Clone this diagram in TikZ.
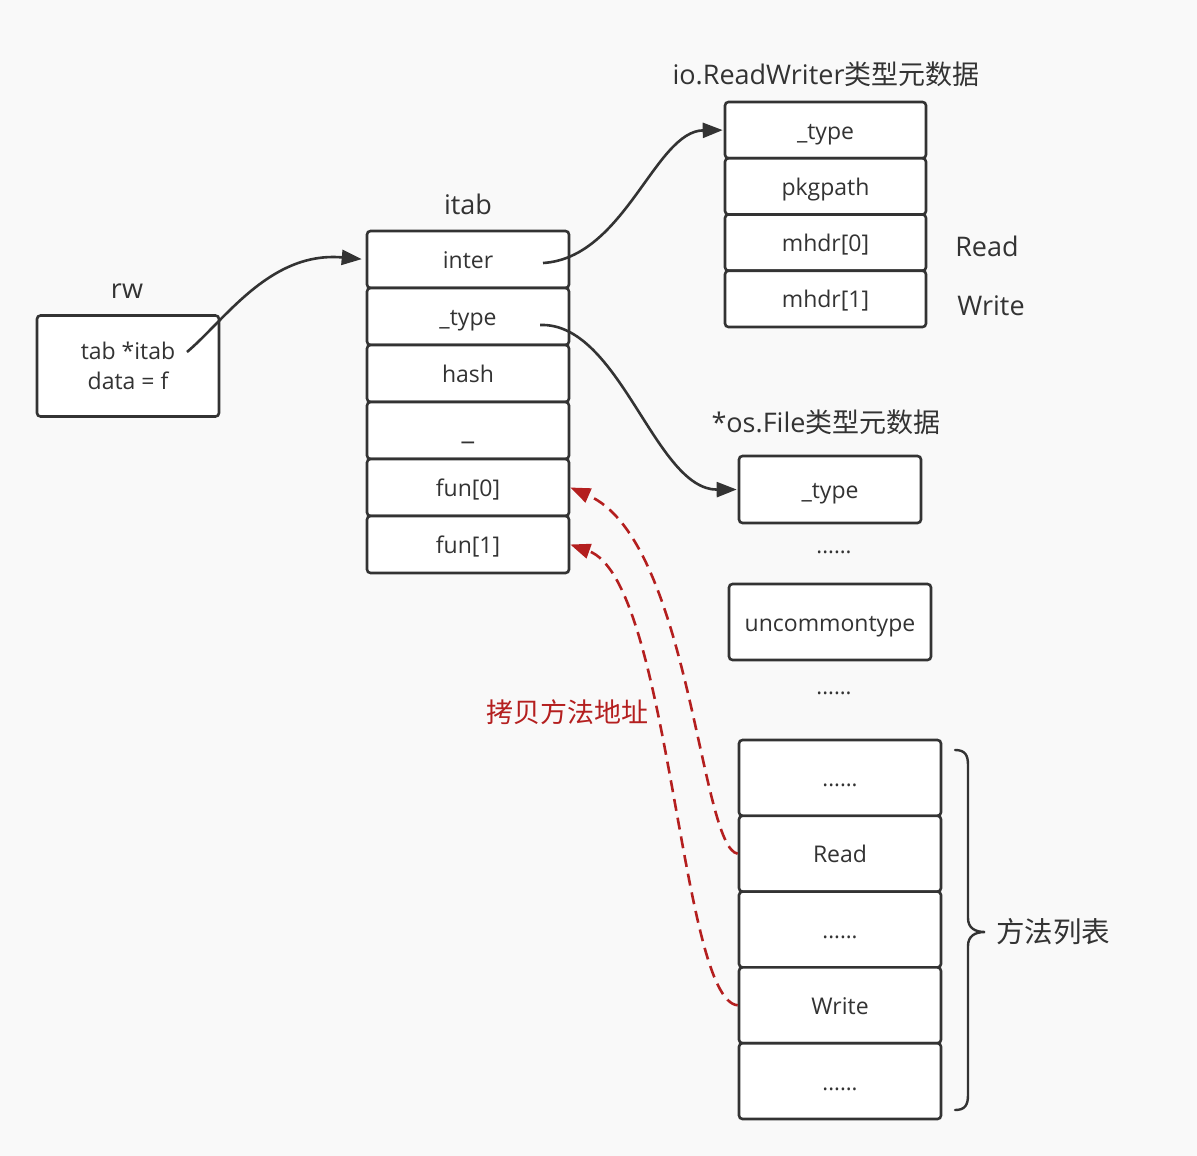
\documentclass[tikz,border=0pt]{standalone}
\usepackage{fontspec}
\setmainfont{Open Sans}
\newfontfamily\cjk{Noto Sans CJK SC}
\usetikzlibrary{arrows.meta,calc}
\definecolor{ink}{HTML}{333333}
\definecolor{copyred}{HTML}{B41F1F}
\definecolor{paper}{HTML}{F9F9F9}

\begin{document}
\begin{tikzpicture}[x=1pt,y=-1pt,
  box/.style={draw=ink, fill=white, line width=2.6pt, rounded corners=3.5pt,
    inner sep=0pt, font=\fontsize{23}{30}\selectfont, text=ink},
  cell/.style={box, text height=18pt, text depth=0pt},
  caption/.style={font=\fontsize{27}{30}\selectfont, text=ink, inner sep=0pt},
  dots/.style={font=\fontsize{22}{24}\selectfont},
  conn/.style={draw=ink, line width=2.6pt, -{Triangle[length=20pt,width=15pt]}},
  copy/.style={draw=copyred, line width=2.6pt, dash pattern=on 12pt off 7pt,
    -{Triangle[length=20pt,width=15pt]}}]

% canvas
\fill[paper] (0,0) rectangle (1197,1156);
\useasboundingbox (0,0) rectangle (1197,1156);

% rw variable
\node[caption] (rwlbl) at (127,291) {rw};
\node[box, minimum width=182pt, minimum height=101pt, align=center] (rw) at (128,366)
  {tab *itab\\data = f};
\coordinate (tabptr) at (187,352);

% itab structure
\node[caption] (itablbl) at (468,204) {itab};
\node[cell, minimum width=202pt, minimum height=57pt] (inter) at (468,259.5) {inter};
\node[cell, minimum width=202pt, minimum height=57pt] (itype) at (468,316.5) {\_type};
\node[cell, minimum width=202pt, minimum height=57pt] (hash)  at (468,373.5) {hash};
\node[cell, minimum width=202pt, minimum height=57pt] (pad)   at (468,430.5)
  {\fontsize{28}{30}\selectfont\_};
\node[cell, minimum width=202pt, minimum height=57pt] (fun0)  at (468,487.5) {fun[0]};
\node[cell, minimum width=202pt, minimum height=57pt] (fun1)  at (468,544.5) {fun[1]};
\coordinate (interptr) at (543,263);
\coordinate (typeptr) at (540,325);

% io.ReadWriter type metadata
\node[caption] (rwtlbl) at (826,74) {io.ReadWriter{\cjk 类型元数据}};
\node[cell, minimum width=201pt, minimum height=56.25pt] (rwtype) at (825.5,130.1) {\_type};
\node[cell, minimum width=201pt, minimum height=56.25pt] (pkg)    at (825.5,186.4) {pkgpath};
\node[cell, minimum width=201pt, minimum height=56.25pt] (mh0)    at (825.5,242.6) {mhdr[0]};
\node[cell, minimum width=201pt, minimum height=56.25pt] (mh1)    at (825.5,298.9) {mhdr[1]};
\node[caption] (rdlbl) at (987,246) {Read};
\node[caption] (wrlbl) at (991,306) {Write};

% *os.File type metadata
\node[caption] (flbl) at (826,422) {*os.File{\cjk 类型元数据}};
\node[cell, minimum width=182pt, minimum height=67pt] (ftype) at (830,489.5) {\_type};
\node[caption, dots] (gap1) at (834,552) {......};
\node[cell, minimum width=202pt, minimum height=76pt] (unc) at (830,622) {uncommontype};
\node[caption, dots] (gap2) at (834,693) {......};

% method table
\node[cell, minimum width=202pt, minimum height=75.8pt] (m0) at (840,777.9)
  {\fontsize{22}{24}\selectfont ......};
\node[cell, minimum width=202pt, minimum height=75.8pt] (mread) at (840,853.7) {Read};
\node[cell, minimum width=202pt, minimum height=75.8pt] (m2) at (840,929.5)
  {\fontsize{22}{24}\selectfont ......};
\node[cell, minimum width=202pt, minimum height=75.8pt] (mwrite) at (840,1005.3) {Write};
\node[cell, minimum width=202pt, minimum height=75.8pt] (m4) at (840,1081.1)
  {\fontsize{22}{24}\selectfont ......};

% brace around the method table
\draw[ink, line width=2.4pt, line cap=round]
  (955,750) .. controls (965,750) and (968,755) .. (968,765) -- (968,918)
  .. controls (968,928) and (975,932) .. (985,932)
  .. controls (975,932) and (968,936) .. (968,946) -- (968,1095)
  .. controls (968,1105) and (965,1110) .. (955,1110);
\node[caption, font=\cjk\fontsize{28.5}{32}\selectfont] (mlist) at (1053,932) {方法列表};

% pointers
\draw[conn, shorten >=4pt] (tabptr) .. controls (225,320) and (270,251) .. (inter.west);
\draw[conn, shorten >=1pt] (interptr) .. controls (625,258) and (655,131) .. (rwtype.west);
\draw[conn, shorten >=1pt] (typeptr) .. controls (620,322) and (655,490) .. (ftype.west);

% method addresses copied into itab.fun
\draw[copy] (mread.west) .. controls (700,848) and (690,540) .. (fun0.east);
\draw[copy] (mwrite.west) .. controls (680,1000) and (670,580) .. (fun1.east);
\node[caption, font=\cjk\fontsize{27}{30}\selectfont, text=copyred] (copylbl) at (567,712) {拷贝方法地址};

\end{tikzpicture}
\end{document}
